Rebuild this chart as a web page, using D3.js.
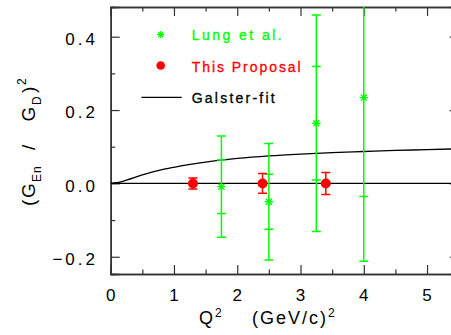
<!DOCTYPE html>
<html>
<head>
<meta charset="utf-8">
<script src="https://cdn.jsdelivr.net/npm/d3@7"></script>
<style>
    body { margin: 0; background: #fff; }
    #chart { width: 451px; height: 335px; }
    text { font-family: "Liberation Sans", Arial, sans-serif; }
</style>
</head>
<body>
<div id="chart"></div>
<script>
// Lung et al. points (stat and total errors)
var lungQ2 = [1.75, 2.5, 3.25, 4.0];
var lungVal = [-0.009, -0.05, 0.164, 0.234];
var lungStat = [0.073, 0.075, 0.155, 0.27];
var lungTot = [0.138, 0.159, 0.295, 0.446];

// This Proposal points
var propQ2 = [1.3, 2.4, 3.4];
var propVal = [0, 0, 0];
var propErr = [0.015, 0.027, 0.03];

// Galster fit
var galsterQ2 = [0, 0.1, 0.25, 0.5, 0.75, 1, 1.5, 2, 2.5, 3, 3.5, 4, 4.5, 5, 5.5];
var galsterVal = [0, 0.002, 0.009, 0.023, 0.035, 0.044, 0.058, 0.068, 0.075, 0.080, 0.084, 0.087, 0.090, 0.092, 0.0945];

var xTicks = [0, 1, 2, 3, 4, 5];
var yTicks = [-0.2, 0.0, 0.2, 0.4];
var legendLabels = ["Lung et al.", "This Proposal", "Galster-fit"];

Plot = function(_parentElement) {
    this.parentElement = _parentElement;
    this.initVis();
};

Plot.prototype.initVis = function() {
    var vis = this;

    vis.width = 451;
    vis.height = 335;
    vis.margin = {left: 110.7, top: 7, bottom: 274};

    vis.svg = d3.select("#" + vis.parentElement).append("svg")
        .attr("width", vis.width)
        .attr("height", vis.height);

    vis.x = d3.scaleLinear().domain([0, 5.5]).range([vis.margin.left, vis.margin.left + 5.5 * 63.27]);
    vis.y = d3.scaleLinear().domain([-0.247, 0.481]).range([vis.margin.bottom, vis.margin.top]);

    vis.svg.append("clipPath").attr("id", "clip")
        .append("rect")
        .attr("x", vis.x(0)).attr("y", vis.y(0.481))
        .attr("width", vis.x(5.5) - vis.x(0))
        .attr("height", vis.y(-0.247) - vis.y(0.481));

    vis.drawAxes();
    vis.drawData();
    vis.drawLegend();
};

Plot.prototype.drawAxes = function() {
    var vis = this;
    var frameColor = "#333";

    // ticks inward on all four sides
    var xMajor = vis.x.ticks(6), xMinor = d3.range(0.5, 5.5, 1);
    var yMajor = yTicks, yMinor = [-0.1, 0.1, 0.3];

    var axB = d3.axisBottom(vis.x).tickValues(xMajor).tickSize(-9).tickFormat("");
    var axBm = d3.axisBottom(vis.x).tickValues(xMinor).tickSize(-4.5).tickFormat("");
    var axT = d3.axisTop(vis.x).tickValues(xMajor).tickSize(-9).tickFormat("");
    var axTm = d3.axisTop(vis.x).tickValues(xMinor).tickSize(-4.5).tickFormat("");
    var axL = d3.axisLeft(vis.y).tickValues(yMajor).tickSize(-9).tickFormat("");
    var axLm = d3.axisLeft(vis.y).tickValues(yMinor).tickSize(-4.5).tickFormat("");
    var axR = d3.axisRight(vis.y).tickValues(yMajor).tickSize(-9).tickFormat("");
    var axRm = d3.axisRight(vis.y).tickValues(yMinor).tickSize(-4.5).tickFormat("");

    var place = [
        [axB, 0, vis.y(-0.247)], [axBm, 0, vis.y(-0.247)],
        [axT, 0, vis.y(0.481)], [axTm, 0, vis.y(0.481)],
        [axL, vis.x(0), 0], [axLm, vis.x(0), 0],
        [axR, vis.x(5.5), 0], [axRm, vis.x(5.5), 0]
    ];
    place.forEach(function(p) {
        var g = vis.svg.append("g")
            .attr("transform", "translate(" + p[1] + "," + p[2] + ")")
            .call(p[0]);
        g.selectAll("path").attr("stroke", frameColor).attr("stroke-width", 1.5);
        g.selectAll("line").attr("stroke", frameColor).attr("stroke-width", 1.2);
    });

    // tick labels
    vis.svg.selectAll(".xlab").data(xTicks).enter().append("text")
        .attr("class", "xlab")
        .attr("x", function(d) { return vis.x(d) + 1.5; })
        .attr("y", vis.y(-0.247) + 26.5)
        .attr("text-anchor", "middle")
        .style("font-size", "17px")
        .style("letter-spacing", "3px")
        .text(function(d) { return d; });

    vis.svg.selectAll(".ylab").data(yTicks).enter().append("text")
        .attr("class", "ylab")
        .attr("x", 98)
        .attr("y", function(d) { return vis.y(d) + 8.3; })
        .attr("text-anchor", "end")
        .style("font-size", "17px")
        .style("letter-spacing", "3px")
        .text(function(d) { return d3.format(".1f")(d).replace("-", "\u2212"); });

    // x title
    var xt = vis.svg.append("text")
        .attr("x", 199).attr("y", 323.5)
        .style("font-size", "18px")
        .style("letter-spacing", "2px");
    xt.append("tspan").text("Q");
    xt.append("tspan").attr("dy", -7).style("font-size", "12px").text("2");
    xt.append("tspan").attr("x", 252).attr("dy", 7).text("(GeV/c)");
    xt.append("tspan").attr("dy", -7).style("font-size", "12px").text("2");

    // y title, pieces placed along the rotated axis (pos = screen y of start)
    var yPieces = [
        {t: "(", pos: 206, size: 19, shift: 0},
        {t: "G", pos: 198, size: 19, shift: 0},
        {t: "En", pos: 182, size: 12, shift: 6},
        {t: "/", pos: 150, size: 19, shift: 0},
        {t: "G", pos: 121.5, size: 19, shift: 0},
        {t: "D", pos: 105, size: 12, shift: 6},
        {t: ")", pos: 93, size: 19, shift: 0},
        {t: "2", pos: 85, size: 12, shift: -9}
    ];
    var yt = vis.svg.append("g").attr("transform", "translate(34.5,0) rotate(-90)");
    yt.selectAll("text").data(yPieces).enter().append("text")
        .attr("x", function(d) { return -d.pos; })
        .attr("y", function(d) { return d.shift; })
        .style("font-size", function(d) { return d.size + "px"; })
        .style("letter-spacing", "1px")
        .text(function(d) { return d.t; });
};

Plot.prototype.star = function(g, cx, cy, r, color) {
    var a = r * 0.72;
    var segs = [[-r, 0, r, 0], [0, -r, 0, r], [-a, -a, a, a], [-a, a, a, -a]];
    segs.forEach(function(s) {
        g.append("line")
            .attr("x1", cx + s[0]).attr("y1", cy + s[1])
            .attr("x2", cx + s[2]).attr("y2", cy + s[3])
            .attr("stroke", color).attr("stroke-width", 1.3);
    });
};

Plot.prototype.drawData = function() {
    var vis = this;
    var green = "#00ff00", red = "#ff0000";

    var plot = vis.svg.append("g").attr("clip-path", "url(#clip)");

    // zero line
    plot.append("line")
        .attr("x1", vis.x(0)).attr("x2", vis.x(5.5))
        .attr("y1", vis.y(0)).attr("y2", vis.y(0))
        .attr("stroke", "#000").attr("stroke-width", 1.3);

    // Galster curve
    var line = d3.line()
        .x(function(d, i) { return vis.x(galsterQ2[i]); })
        .y(function(d) { return vis.y(d); })
        .curve(d3.curveMonotoneX);
    plot.append("path")
        .attr("d", line(galsterVal))
        .attr("fill", "none")
        .attr("stroke", "#000")
        .attr("stroke-width", 1.3);

    // Lung et al.
    lungQ2.forEach(function(q, i) {
        var cx = vis.x(q);
        var lo = lungVal[i] - lungTot[i], hi = lungVal[i] + lungTot[i];
        plot.append("line")
            .attr("x1", cx).attr("x2", cx)
            .attr("y1", vis.y(lo)).attr("y2", vis.y(hi))
            .attr("stroke", green).attr("stroke-width", 1.5);
        [lo, hi, lungVal[i] - lungStat[i], lungVal[i] + lungStat[i]].forEach(function(v) {
            plot.append("line")
                .attr("x1", cx - 4.5).attr("x2", cx + 4.5)
                .attr("y1", vis.y(v)).attr("y2", vis.y(v))
                .attr("stroke", green).attr("stroke-width", 1.5);
        });
        vis.star(plot, cx, vis.y(lungVal[i]), 4.2, green);
    });

    // This Proposal
    propQ2.forEach(function(q, i) {
        var cx = vis.x(q);
        var lo = propVal[i] - propErr[i], hi = propVal[i] + propErr[i];
        plot.append("line")
            .attr("x1", cx).attr("x2", cx)
            .attr("y1", vis.y(lo)).attr("y2", vis.y(hi))
            .attr("stroke", red).attr("stroke-width", 1.5);
        [lo, hi].forEach(function(v) {
            plot.append("line")
                .attr("x1", cx - 4.5).attr("x2", cx + 4.5)
                .attr("y1", vis.y(v)).attr("y2", vis.y(v))
                .attr("stroke", red).attr("stroke-width", 1.5);
        });
        plot.append("circle")
            .attr("cx", cx).attr("cy", vis.y(propVal[i]))
            .attr("r", 5)
            .attr("fill", red);
    });
};

Plot.prototype.drawLegend = function() {
    var vis = this;
    var g = vis.svg.append("g");
    var colors = ["#00ff00", "#ff0000", "#000"];
    var widths = [90, 109, 83];
    var baselines = [39.5, 71.5, 103];

    vis.star(g, 160.7, 34.5, 3.5, colors[0]);
    g.append("circle").attr("cx", 160.7).attr("cy", 65.5).attr("r", 4.3).attr("fill", colors[1]);
    g.append("line")
        .attr("x1", 141.5).attr("x2", 181.7)
        .attr("y1", 97.3).attr("y2", 97.3)
        .attr("stroke", "#000").attr("stroke-width", 1.3);

    g.selectAll(".leg").data(legendLabels).enter().append("text")
        .attr("class", "leg")
        .attr("x", 191.7)
        .attr("y", function(d, i) { return baselines[i]; })
        .attr("textLength", function(d, i) { return widths[i]; })
        .attr("lengthAdjust", "spacing")
        .attr("fill", function(d, i) { return colors[i]; })
        .attr("stroke", function(d, i) { return colors[i]; })
        .attr("stroke-width", 0.3)
        .style("font-size", "14px")
        .text(function(d) { return d; });
};

new Plot("chart");
</script>
</body>
</html>
